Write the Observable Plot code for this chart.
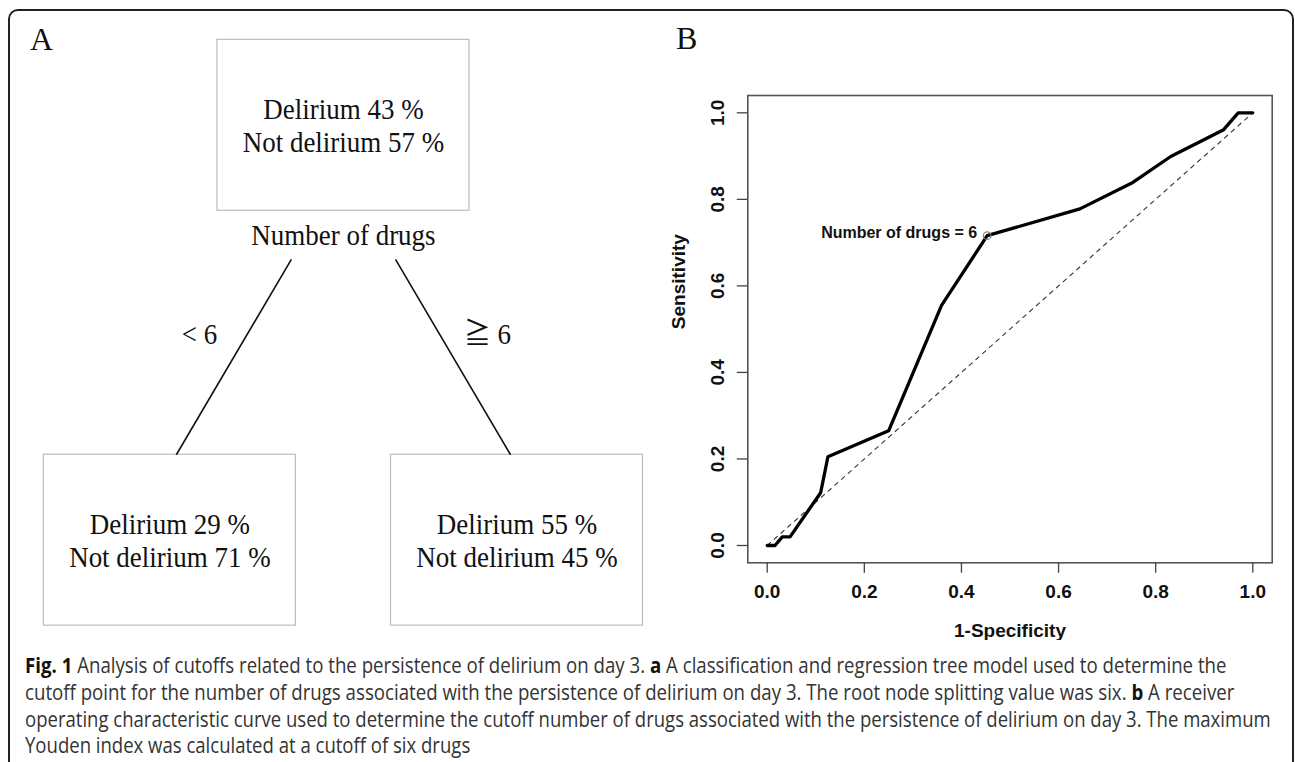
<!DOCTYPE html>
<html><head><meta charset="utf-8">
<script src="https://cdn.jsdelivr.net/npm/d3@7"></script>
<script src="https://cdn.jsdelivr.net/npm/@observablehq/plot@0.6"></script>
<style>
html,body{margin:0;padding:0;background:#fff;}
#page{position:relative;width:1295px;height:762px;overflow:hidden;background:#fff;}
#border{position:absolute;left:8px;top:9px;width:1286px;height:790px;border:2px solid #222;border-radius:10px;box-sizing:border-box;}
#panelA{position:absolute;left:0;top:0;}
#panelB{position:absolute;left:660px;top:0;}
#caption{position:absolute;left:0;top:640px;}
</style></head>
<body>
<div id="page">
  <div id="border"></div>
  <div id="panelA"></div>
  <div id="panelB"></div>
  <svg id="caption" width="1295" height="122"></svg>
</div>
<script>
// ---------- data ----------
// Panel A: classification tree
const nodeDelirium    = [43, 29, 55];
const nodeNotDelirium = [57, 71, 45];
const nodeDepth       = [0, 1, 1];
const nodeSide        = [0, -1, 1];
const splitVariable   = "Number of drugs";
const branchLabels    = ["< 6", "\u2267 6"];

// Panel B: ROC curve
const fpr = [0, 0.016, 0.031, 0.047, 0.11, 0.125, 0.25, 0.359, 0.453, 0.644, 0.753, 0.831, 0.94, 0.97, 1];
const tpr = [0, 0,     0.02,  0.02,  0.122, 0.205, 0.265, 0.555, 0.716, 0.778, 0.839, 0.899, 0.961, 1, 1];
const cutoffIndex = 8;
const cutoffLabel = "Number of drugs = 6";
const xTicks = [0, 0.2, 0.4, 0.6, 0.8, 1.0];
const yTicks = [0, 0.2, 0.4, 0.6, 0.8, 1.0];
const xLabel = "1-Specificity";
const yLabel = "Sensitivity";
const panelLetters = ["A", "B"];

// Caption
const captionLines = [
  [["Fig. 1", true], [" Analysis of cutoffs related to the persistence of delirium on day 3. ", false], ["a", true], [" A classification and regression tree model used to determine the", false]],
  [["cutoff point for the number of drugs associated with the persistence of delirium on day 3. The root node splitting value was six. ", false], ["b", true], [" A receiver", false]],
  [["operating characteristic curve used to determine the cutoff number of drugs associated with the persistence of delirium on day 3. The maximum", false]],
  [["Youden index was calculated at a cutoff of six drugs", false]]
];
const captionWidths = [1201.7, 1210, 1246.7, null];

// ---------- Panel A ----------
const serif = "'Liberation Serif', 'Times New Roman', 'DejaVu Serif', 'Noto Sans CJK JP', serif";
const nodes = nodeDelirium.map((d, i) => ({
  depth: nodeDepth[i], side: nodeSide[i],
  label: `Delirium ${d} %\nNot delirium ${nodeNotDelirium[i]} %`
}));
const root = nodes[0];
const children = nodes.filter(n => n.depth === 1).map((n, i) => ({...n, branch: branchLabels[i], pSide: root.side, pDepth: root.depth}));
const halfW = 0.726, halfH = 0.206;

const plotA = Plot.plot({
  width: 660, height: 640,
  marginLeft: 0, marginRight: 0, marginTop: 0, marginBottom: 0,
  style: {background: "transparent"},
  x: {type: "linear", domain: [-1, 1], range: [169.4, 516.5], axis: null},
  y: {type: "linear", domain: [0, 1], range: [124.8, 539.7], axis: null},
  marks: [
    Plot.rect(nodes, {x1: d => d.side - halfW, x2: d => d.side + halfW, y1: d => d.depth - halfH, y2: d => d.depth + halfH,
      fill: "none", stroke: "#bdbdbd", strokeWidth: 1.2}),
    Plot.link(children, {x1: d => d.pSide + d.side * 0.3, y1: d => d.pDepth + 0.323,
      x2: d => d.side * 0.963, y2: d => d.depth - halfH, stroke: "#111", strokeWidth: 1.6}),
    Plot.text(nodes, {x: "side", y: "depth", text: "label", lineHeight: 1.13, fontFamily: serif, fontSize: 29, fill: "#111"}),
    Plot.text([root], {x: "side", y: "depth", text: () => splitVariable, dy: 110.9, fontFamily: serif, fontSize: 29, fill: "#111"}),
    Plot.text(children, {x: d => d.side * 0.83, y: d => (d.pDepth + d.depth) / 2, text: "branch", dy: 1.7, fontFamily: serif, fontSize: 29, fill: "#111"}),
    Plot.text([panelLetters[0]], {frameAnchor: "top-left", text: d => d, textAnchor: "start", lineAnchor: "bottom", dx: 29.6, dy: 49.3, fontFamily: serif, fontSize: 32, fill: "#111"})
  ]
});
document.getElementById("panelA").appendChild(plotA);
d3.select(plotA).selectAll("text").each(function () {
  const g = this.closest("g");
  if (g && g.getAttribute("font-size") === "29") {
    this.setAttribute("transform", (this.getAttribute("transform") || "") + " scale(0.93,1)");
  }
});

// ---------- Panel B ----------
const sans = "'Liberation Sans', Arial, Helvetica, sans-serif";
const roc = fpr.map((x, i) => ({x, y: tpr[i]}));
const chance = [{x1: fpr[0], y1: tpr[0], x2: fpr[fpr.length - 1], y2: tpr[tpr.length - 1]}];
const plotB = Plot.plot({
  width: 635, height: 640,
  marginLeft: 87.3, marginRight: 23.3, marginTop: 95, marginBottom: 77.7,
  style: {background: "transparent", fontFamily: sans},
  x: {domain: [-0.04, 1.04]},
  y: {domain: [-0.04, 1.04]},
  marks: [
    Plot.frame({stroke: "#555", strokeWidth: 1.6}),
    Plot.axisX(xTicks, {tickSize: 10.5, tickPadding: 11, tickFormat: ".1f", label: null, fontSize: 19, fontWeight: "bold", fill: "#111", stroke: "#444", strokeWidth: 1.3}),
    Plot.axisY(yTicks, {tickSize: 10.5, tickPadding: 13.4, tickRotate: -90, tickFormat: ".1f", label: null, fontSize: 19, fontWeight: "bold", fill: "#111", stroke: "#444", strokeWidth: 1.3}),
    Plot.link(chance, {x1: "x1", y1: "y1", x2: "x2", y2: "y2", stroke: "#333", strokeWidth: 1.1, strokeDasharray: "5,4"}),
    Plot.line(roc, {x: "x", y: "y", stroke: "#000", strokeWidth: 3.3}),
    Plot.dot([roc[cutoffIndex]], {x: "x", y: "y", r: 3.8, stroke: "#888", strokeWidth: 1.2, fill: "none"}),
    Plot.text([roc[cutoffIndex]], {x: "x", y: "y", text: () => cutoffLabel, textAnchor: "end", dx: -10, dy: -2.6, fontSize: 16, fontWeight: "bold", fill: "#111"}),
    Plot.text([xLabel], {frameAnchor: "bottom", text: d => d, lineAnchor: "bottom", dy: 73.7, fontSize: 19, fontWeight: "bold", fill: "#111"}),
    Plot.text([yLabel], {frameAnchor: "left", text: d => d, rotate: -90, lineAnchor: "bottom", dx: -62.8, fontSize: 19, fontWeight: "bold", fill: "#111"}),
    Plot.text([panelLetters[1]], {frameAnchor: "top-left", text: d => d, textAnchor: "start", lineAnchor: "bottom", dx: -71.9, dy: -46.7, fontFamily: serif, fontSize: 32, fill: "#111"})
  ]
});
document.getElementById("panelB").appendChild(plotB);

// ---------- Caption ----------
const cap = d3.select("#caption");
const lineGap = 26.9, firstBaseline = 32.7, capX = 25;
const texts = captionLines.map((segs, i) => {
  const t = cap.append("text")
    .attr("x", 0).attr("y", 0)
    .attr("font-family", "'Open Sans', 'Noto Sans', sans-serif")
    .attr("font-size", 21).attr("fill", "#333");
  segs.forEach(([s, b]) => t.append("tspan").attr("font-weight", b ? "bold" : "normal").attr("fill", b ? "#111" : "#333").text(s));
  return t;
});
const natural = texts.map(t => t.node().getComputedTextLength());
const ratios = natural.map((n, i) => (captionWidths[i] ?? natural[2] * (captionWidths[2] / natural[2]) * (n / natural[2])) / n);
texts.forEach((t, i) => {
  t.attr("transform", `translate(${capX},${firstBaseline + i * lineGap}) scale(${ratios[i]},1)`);
});
</script>
</body></html>
